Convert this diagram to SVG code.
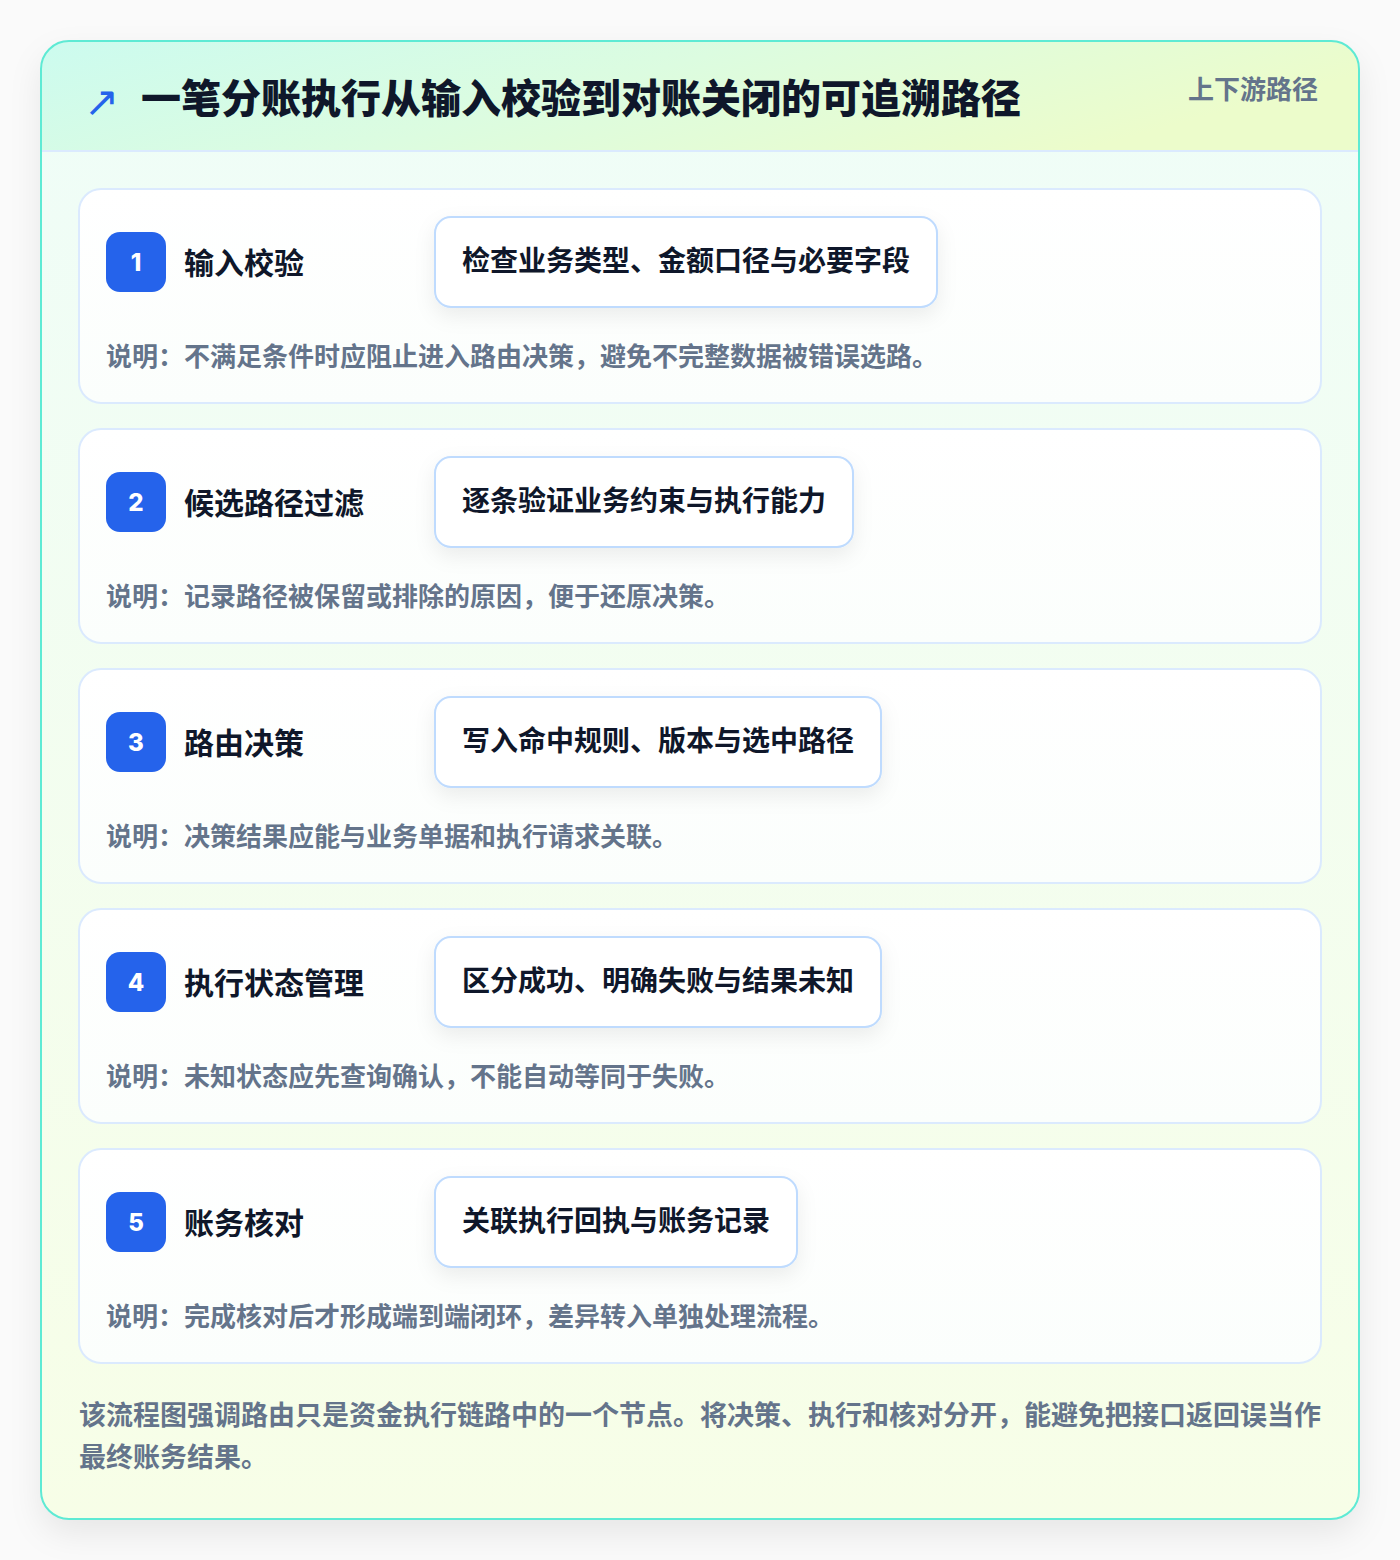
<svg xmlns="http://www.w3.org/2000/svg" width="1400" height="1560" viewBox="0 0 1400 1560">
<defs>
<linearGradient id="hdr" x1="0" y1="0" x2="1" y2="0.3">
<stop offset="0" stop-color="#ccfbef"/>
<stop offset="0.5" stop-color="#dcfce0"/>
<stop offset="1" stop-color="#ecfccb"/>
</linearGradient>
<linearGradient id="body" x1="0" y1="0" x2="0" y2="1">
<stop offset="0" stop-color="#effdf8"/>
<stop offset="1" stop-color="#f7fee7"/>
</linearGradient>
<linearGradient id="cardg" x1="0" y1="0" x2="0" y2="1">
<stop offset="0" stop-color="#ffffff"/>
<stop offset="1" stop-color="#fbfefc"/>
</linearGradient>
<filter id="outerShadow" x="-10%" y="-10%" width="120%" height="120%">
<feDropShadow dx="0" dy="14" stdDeviation="16" flood-color="#0f172a" flood-opacity="0.08"/>
</filter>
<filter id="boxShadow" x="-20%" y="-40%" width="140%" height="190%">
<feDropShadow dx="0" dy="8" stdDeviation="10" flood-color="#0f172a" flood-opacity="0.07"/>
</filter>
<clipPath id="outerClip">
<rect x="41" y="41" width="1318" height="1478" rx="28"/>
</clipPath>
</defs>
<style>
.cjk{font-family:"Noto Sans CJK SC","Noto Sans",sans-serif;}
.title{font-size:40px;font-weight:800;fill:#0f172a;}
.tag{font-size:26px;font-weight:700;fill:#64748b;}
.card{fill:url(#cardg);stroke:#dbeafe;stroke-width:2;}
.badge{fill:#2563eb;}
.num{font-family:Inter,"Liberation Sans",Arial,sans-serif;font-size:24px;font-weight:800;fill:#ffffff;}
.stitle{font-size:30px;font-weight:700;fill:#0f172a;}
.box{fill:#ffffff;stroke:#bfdbfe;stroke-width:2;}
.btext{font-size:28px;font-weight:700;fill:#0f172a;}
.note{font-size:26px;font-weight:700;fill:#64748b;}
.foot{font-size:27px;font-weight:700;fill:#64748b;}
</style>
<rect x="0" y="0" width="1400" height="1560" fill="#fafafa"/>
<g id="frame">
<rect x="41" y="41" width="1318" height="1478" rx="28" fill="url(#body)" filter="url(#outerShadow)"/>
<rect x="41" y="41" width="1318" height="110" fill="url(#hdr)" clip-path="url(#outerClip)"/>
<line x1="41" y1="151" x2="1359" y2="151" stroke="#dbeafe" stroke-width="2"/>
<rect x="41" y="41" width="1318" height="1478" rx="28" fill="none" stroke="#5eead4" stroke-width="2"/>
</g>
<g id="header">
<text x="84" y="116" font-family="DejaVu Sans,sans-serif" font-size="42" fill="#2563eb">↗</text>
<text x="141" y="113" class="cjk title">一笔分账执行从输入校验到对账关闭的可追溯路径</text>
<text x="1318" y="99" text-anchor="end" class="cjk tag">上下游路径</text>
</g>
<g id="connectors"></g>
<g id="step1">
<rect x="79" y="189" width="1242" height="214" rx="22" class="card"/>
<rect x="106" y="232" width="60" height="60" rx="14" class="badge"/>
<text x="136" y="271" text-anchor="middle" class="num">1</text>
<text x="184" y="274" class="cjk stitle">输入校验</text>
<rect x="435" y="217" width="502" height="90" rx="16" class="box" filter="url(#boxShadow)"/>
<text x="462" y="271" class="cjk btext">检查业务类型、金额口径与必要字段</text>
<text x="106" y="366" class="cjk note">说明：不满足条件时应阻止进入路由决策，避免不完整数据被错误选路。</text>
</g>
<g id="step2">
<rect x="79" y="429" width="1242" height="214" rx="22" class="card"/>
<rect x="106" y="472" width="60" height="60" rx="14" class="badge"/>
<text x="136" y="511" text-anchor="middle" class="num">2</text>
<text x="184" y="514" class="cjk stitle">候选路径过滤</text>
<rect x="435" y="457" width="418" height="90" rx="16" class="box" filter="url(#boxShadow)"/>
<text x="462" y="511" class="cjk btext">逐条验证业务约束与执行能力</text>
<text x="106" y="606" class="cjk note">说明：记录路径被保留或排除的原因，便于还原决策。</text>
</g>
<g id="step3">
<rect x="79" y="669" width="1242" height="214" rx="22" class="card"/>
<rect x="106" y="712" width="60" height="60" rx="14" class="badge"/>
<text x="136" y="751" text-anchor="middle" class="num">3</text>
<text x="184" y="754" class="cjk stitle">路由决策</text>
<rect x="435" y="697" width="446" height="90" rx="16" class="box" filter="url(#boxShadow)"/>
<text x="462" y="751" class="cjk btext">写入命中规则、版本与选中路径</text>
<text x="106" y="846" class="cjk note">说明：决策结果应能与业务单据和执行请求关联。</text>
</g>
<g id="step4">
<rect x="79" y="909" width="1242" height="214" rx="22" class="card"/>
<rect x="106" y="952" width="60" height="60" rx="14" class="badge"/>
<text x="136" y="991" text-anchor="middle" class="num">4</text>
<text x="184" y="994" class="cjk stitle">执行状态管理</text>
<rect x="435" y="937" width="446" height="90" rx="16" class="box" filter="url(#boxShadow)"/>
<text x="462" y="991" class="cjk btext">区分成功、明确失败与结果未知</text>
<text x="106" y="1086" class="cjk note">说明：未知状态应先查询确认，不能自动等同于失败。</text>
</g>
<g id="step5">
<rect x="79" y="1149" width="1242" height="214" rx="22" class="card"/>
<rect x="106" y="1192" width="60" height="60" rx="14" class="badge"/>
<text x="136" y="1231" text-anchor="middle" class="num">5</text>
<text x="184" y="1234" class="cjk stitle">账务核对</text>
<rect x="435" y="1177" width="362" height="90" rx="16" class="box" filter="url(#boxShadow)"/>
<text x="462" y="1231" class="cjk btext">关联执行回执与账务记录</text>
<text x="106" y="1326" class="cjk note">说明：完成核对后才形成端到端闭环，差异转入单独处理流程。</text>
</g>
<g id="footer">
<text x="79" y="1425" class="cjk foot">该流程图强调路由只是资金执行链路中的一个节点。将决策、执行和核对分开，能避免把接口返回误当作</text>
<text x="79" y="1467" class="cjk foot">最终账务结果。</text>
</g>
</svg>
